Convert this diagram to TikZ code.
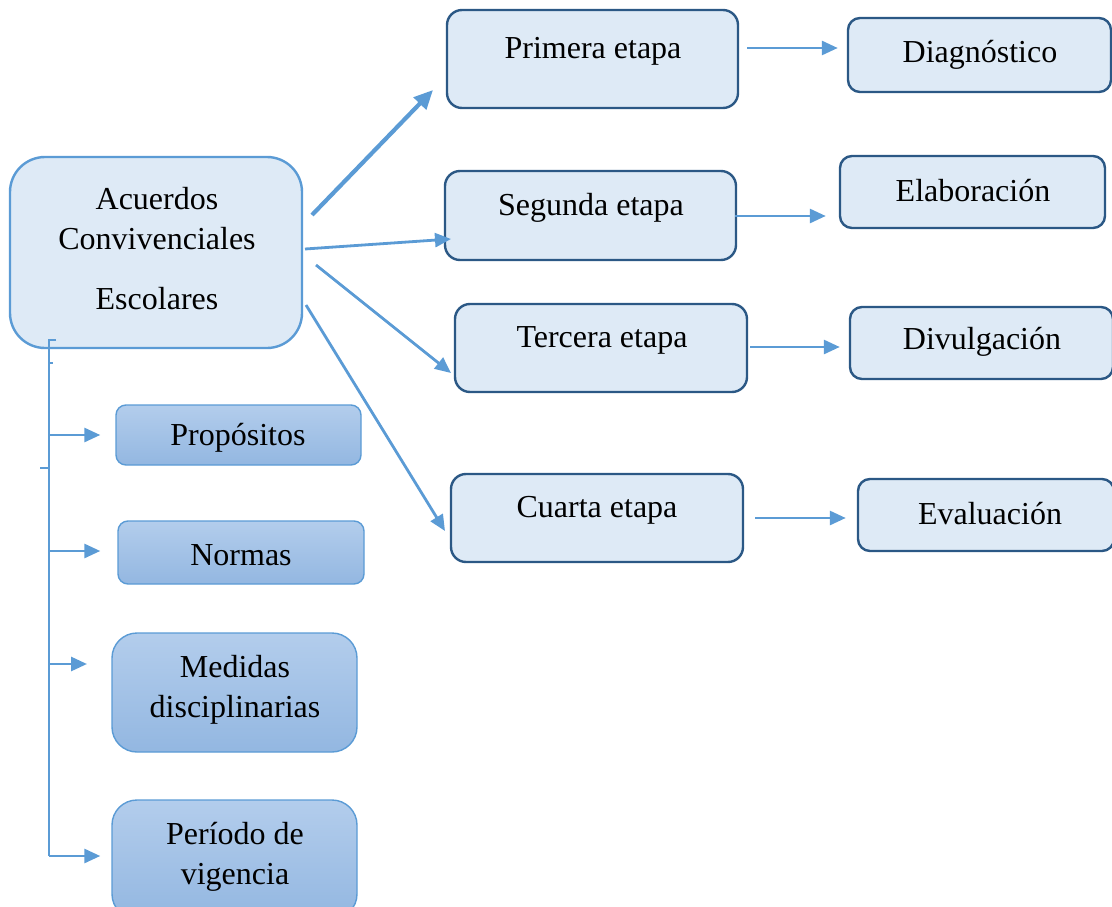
\documentclass[tikz,border=0pt]{standalone}
\usepackage{fontspec}
\setmainfont{Liberation Serif}
\usetikzlibrary{arrows.meta}
\definecolor{ln}{HTML}{5B9BD5}
\definecolor{dk}{HTML}{2B5885}
\definecolor{lf}{HTML}{DEEAF6}
\definecolor{gt}{HTML}{B3CDEC}
\definecolor{gb}{HTML}{93B7E1}
\begin{document}
\begin{tikzpicture}[x=1pt,y=-1pt,
  font=\fontsize{32}{40}\selectfont,
  etapa/.style={rectangle, rounded corners=15, draw=dk, line width=2.4, fill=lf, inner sep=0},
  resbox/.style={rectangle, rounded corners=12, draw=dk, line width=2.4, fill=lf, inner sep=0},
  mainbox/.style={rectangle, rounded corners=35, draw=ln, line width=2.4, fill=lf, inner sep=0},
  gbox/.style={rectangle, rounded corners=10, draw=ln, line width=1.4, top color=gt, bottom color=gb, inner sep=0},
  txt/.style={inner sep=0, align=center},
  conn/.style={draw=ln, line width=2.8},
  arr/.style={conn, -{Triangle[length=16, width=14]}},
  bigarr/.style={draw=ln, line width=4.2, -{Triangle[length=19, width=17]}}
]
\useasboundingbox (0,0) rectangle (1112,907);

% main box
\node[mainbox, minimum width=292, minimum height=191] (main) at (156,252.5) {};
\node[txt] (mt1) at (157,199) {Acuerdos};
\node[txt] (mt2) at (157,239) {Convivenciales};
\node[txt] (mt3) at (157,299) {Escolares};

% etapas
\node[etapa, minimum width=291, minimum height=98] (prim) at (592.5,59) {};
\node[txt] (primt) at (593,51) {Primera etapa};
\node[etapa, minimum width=291, minimum height=89] (seg) at (590.5,215.5) {};
\node[txt] (segt) at (591,208) {Segunda etapa};
\node[etapa, minimum width=292, minimum height=88] (ter) at (601,348) {};
\node[txt] (tert) at (602,340) {Tercera etapa};
\node[etapa, minimum width=292, minimum height=88] (cua) at (597,518) {};
\node[txt] (cuat) at (597,510) {Cuarta etapa};

% results
\node[resbox, minimum width=263, minimum height=74] (diag) at (979.5,55) {};
\node[txt] (diagt) at (980,55) {Diagnóstico};
\node[resbox, minimum width=265, minimum height=72] (elab) at (972.5,192) {};
\node[txt] (elabt) at (973,191) {Elaboración};
\node[resbox, minimum width=263, minimum height=72] (div) at (981.5,343) {};
\node[txt] (divt) at (982,342) {Divulgación};
\node[resbox, minimum width=256, minimum height=72] (eva) at (986,515) {};
\node[txt] (evat) at (990,514) {Evaluación};

% left boxes
\node[gbox, minimum width=245, minimum height=60] (prop) at (238.5,435) {};
\node[txt] (propt) at (238,438) {Propósitos};
\node[gbox, minimum width=246, minimum height=63] (norm) at (241,552.5) {};
\node[txt] (normt) at (241,555) {Normas};
\node[gbox, rounded corners=25, minimum width=245, minimum height=119] (med) at (234.5,692.5) {};
\node[txt] (medt) at (235,690) {Medidas\\disciplinarias};
\node[gbox, rounded corners=25, minimum width=245, minimum height=119] (per) at (234.5,859.5) {};
\node[txt] (pert) at (235,857) {Período de\\vigencia};

% arrows etapa -> result
\coordinate (p1) at (747,48);
\coordinate (p2) at (735,216);
\coordinate (p3) at (750,347);
\coordinate (p4) at (755,518);
\draw[arr, shorten >=9] (p1) -- (p1 -| diag.west);
\draw[arr, shorten >=13] (p2) -- (p2 -| elab.west);
\draw[arr, shorten >=9] (p3) -- (p3 -| div.west);
\draw[arr, shorten >=11] (p4) -- (p4 -| eva.west);

% arrows main -> etapas
\coordinate (s1) at (312,215);
\coordinate (e1) at (433,90);
\coordinate (s2) at (305,249);
\coordinate (e2) at (451,239);
\coordinate (s3) at (316,265);
\coordinate (e3) at (451,373);
\coordinate (s4) at (306,305);
\coordinate (e4) at (445,531);
\draw[bigarr] (s1) -- (e1);
\draw[arr] (s2) -- (e2);
\draw[arr] (s3) -- (e3);
\draw[arr] (s4) -- (e4);

% left bracket
\coordinate (b0) at (56,340);
\coordinate (btop) at (49,340);
\coordinate (bbot) at (49,856);
\coordinate (t1a) at (49,363);
\coordinate (t1b) at (53,363);
\coordinate (t2a) at (40,468);
\coordinate (t2b) at (49,468);
\coordinate (b1) at (49,435);
\coordinate (b2) at (49,551);
\coordinate (b3) at (49,664);
\coordinate (b3e) at (87,664);
\coordinate (b4) at (49,856);
\draw[conn] (b0) -- (btop) -- (bbot);
\draw[conn] (t1a) -- (t1b);
\draw[conn] (t2a) -- (t2b);
\draw[arr, shorten >=15] (b1) -- (b1 -| prop.west);
\draw[arr, shorten >=17] (b2) -- (b2 -| norm.west);
\draw[arr] (b3) -- (b3e);
\draw[arr, shorten >=11] (b4) -- (b4 -| per.west);
\end{tikzpicture}
\end{document}
